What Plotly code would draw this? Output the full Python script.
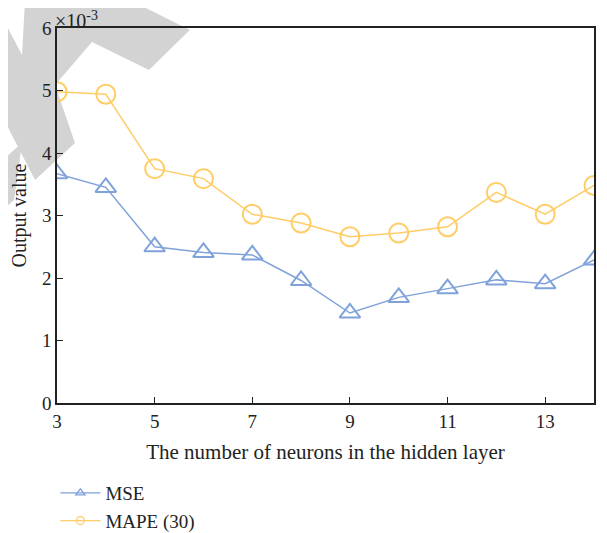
import plotly.graph_objects as go

# Data
neurons = [3, 4, 5, 6, 7, 8, 9, 10, 11, 12, 13, 14]
mse = [3.67, 3.45, 2.50, 2.41, 2.37, 1.96, 1.44, 1.69, 1.83, 1.97, 1.91, 2.29]
mape30 = [4.98, 4.94, 3.75, 3.59, 3.02, 2.88, 2.66, 2.72, 2.82, 3.37, 3.02, 3.48]
x_ticks = [3, 5, 7, 9, 11, 13]
y_ticks = [0, 1, 2, 3, 4, 5, 6]

BLUE = "#7FA2DA"
ORANGE = "#FFCC66"
FONT = "Liberation Serif"

OFF = 8  # page body margin
W, H = 607, 533
L, T = 57 - OFF, 28 - OFF
R = W - (594.5 - OFF)
B = H - (403 - OFF)
pw, ph = W - L - R, H - T - B

def px(x, y):
    # screen pixel -> paper coords
    return ((x - OFF - L) / pw, (H - B - (y - OFF)) / ph)

def poly(points):
    pts = [px(x, y) for x, y in points]
    d = "M " + " L ".join(f"{a:.4f},{b:.4f}" for a, b in pts) + " Z"
    return dict(type="path", path=d, xref="paper", yref="paper",
                fillcolor="#D3D3D3", line=dict(width=0), layer="below")

fig = go.Figure()

fig.add_trace(go.Scatter(
    x=neurons, y=mse, mode="lines+markers", showlegend=False,
    line=dict(color=BLUE, width=1.5),
    marker=dict(symbol="triangle-up-open", size=18, color=BLUE, line=dict(width=2, color=BLUE)),
))
fig.add_trace(go.Scatter(
    x=neurons, y=mape30, mode="lines+markers", showlegend=False,
    line=dict(color=ORANGE, width=1.5),
    marker=dict(symbol="circle-open", size=19, color=ORANGE, line=dict(width=2, color=ORANGE)),
))
# legend entries
fig.add_trace(go.Scatter(
    x=[None], y=[None], mode="lines+markers", name="MSE",
    line=dict(color=BLUE, width=1.2),
    marker=dict(symbol="triangle-up-open", size=8, color=BLUE, line=dict(width=1.3, color=BLUE)),
))
fig.add_trace(go.Scatter(
    x=[None], y=[None], mode="lines+markers", name="MAPE (30)",
    line=dict(color=ORANGE, width=1.2),
    marker=dict(symbol="circle-open", size=8, color=ORANGE, line=dict(width=1.3, color=ORANGE)),
))

shapes = [
    poly([(25, 0), (130, 0), (190, 30), (149, 70), (92, 42), (55, 85), (75, 143),
          (35, 180), (0, 112), (0, 13), (22, 55)]),
    poly([(0, 162), (22, 143), (14, 200), (0, 212)]),
]

fig.update_layout(
    width=W, height=H,
    margin=dict(l=L, r=R, t=T, b=B, pad=0),
    paper_bgcolor="white", plot_bgcolor="rgba(0,0,0,0)",
    font=dict(family=FONT, size=19, color="#222222"),
    shapes=shapes,
    showlegend=True,
    legend=dict(x=-0.003, y=0.1257, xref="paper", yref="container",
                xanchor="left", yanchor="top",
                bgcolor="rgba(0,0,0,0)", font=dict(size=19, family=FONT),
                itemwidth=40, tracegroupgap=0),
    annotations=[dict(text="×10<sup>-3</sup>", x=0, y=1, xref="paper", yref="paper",
                      xanchor="left", yanchor="bottom", showarrow=False,
                      font=dict(size=20, family=FONT), xshift=-4, yshift=-6)],
)
fig.update_xaxes(
    range=[3, 14], tickvals=x_ticks, ticks="inside", ticklen=6, tickwidth=1,
    tickcolor="#222222", showline=True, linecolor="#222222", linewidth=1.5,
    mirror=True, showgrid=False, zeroline=False, automargin=False,
    title=dict(text="The number of neurons in the hidden layer", standoff=14,
               font=dict(size=21)),
    tickfont=dict(size=19),
)
fig.update_yaxes(
    range=[0, 6], tickvals=y_ticks, ticks="inside", ticklen=6, tickwidth=1,
    tickcolor="#222222", showline=True, linecolor="#222222", linewidth=1.5,
    mirror=True, showgrid=False, zeroline=False, automargin=False,
    title=dict(text="Output value", standoff=12, font=dict(size=20)),
    tickfont=dict(size=19),
)

fig.write_html("out.html")
